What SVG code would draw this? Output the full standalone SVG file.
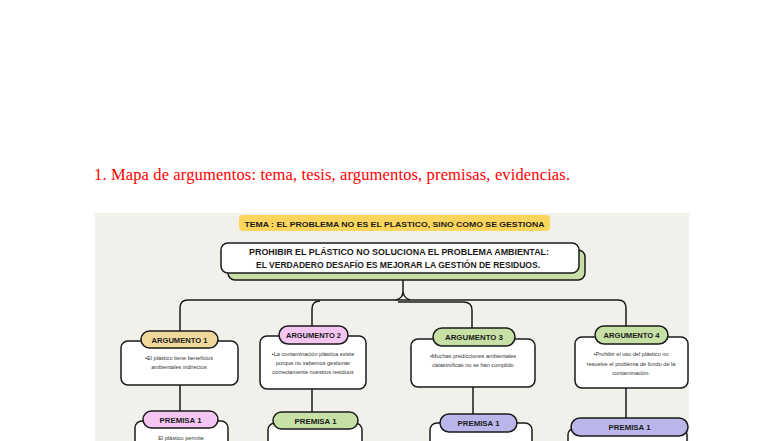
<svg xmlns="http://www.w3.org/2000/svg" width="784" height="441" viewBox="0 0 784 441">
<style>
.title{font-family:"Liberation Serif",serif;font-size:16.5px;fill:#ff0000}
.hw{font-family:"Liberation Sans",Arial,sans-serif;font-weight:bold;fill:#1a1a1a;text-anchor:middle}
.lbl{font-size:8px}
.small{font-family:"Liberation Sans",Arial,sans-serif;font-size:5.6px;fill:#333;text-anchor:middle}
.box{fill:#ffffff;stroke:#1a1a1a;stroke-width:1.5}
.pill{stroke:#1a1a1a;stroke-width:1.5}
.conn{fill:none;stroke:#1a1a1a;stroke-width:1.5}
</style>
<rect width="784" height="441" fill="#ffffff"/>
<text class="title" x="94" y="180" textLength="476" lengthAdjust="spacing">1. Mapa de argumentos: tema, tesis, argumentos, premisas, evidencias.</text>
<rect x="95" y="213" width="594" height="228" fill="#f2f0ea"/>

<g id="tema">
<rect x="239" y="215" width="311" height="16" rx="4" fill="#fcd55c"/>
<text class="hw lbl" x="394.5" y="226.5" textLength="300" lengthAdjust="spacingAndGlyphs">TEMA : EL PROBLEMA NO ES EL PLASTICO, SINO COMO SE GESTIONA</text>
</g>

<g id="tesis">
<rect x="228" y="250" width="357" height="30" rx="7" fill="#c8dea6" stroke="#1a1a1a" stroke-width="1.5"/>
<rect x="221" y="243" width="358" height="30" rx="7" class="box"/>
<text class="hw" font-size="8.5" x="399" y="255" textLength="300" lengthAdjust="spacingAndGlyphs">PROHIBIR EL PLÁSTICO NO SOLUCIONA EL PROBLEMA AMBIENTAL:</text>
<text class="hw" font-size="8.5" x="398" y="268" textLength="284" lengthAdjust="spacingAndGlyphs">EL VERDADERO DESAFÍO ES MEJORAR LA GESTIÓN DE RESIDUOS.</text>
</g>

<g id="connectors">
<path class="conn" d="M403 280 L403 292 Q403 298 396 300"/>
<path class="conn" d="M403 292 Q404 298 410 300"/>
<path class="conn" d="M180 331 L180 308 Q180 300 188 300 L618 300 Q626 300 626 308 L626 326"/>
<path class="conn" d="M312 326 L312 309 Q312 301 320 301"/>
<path class="conn" d="M398 302 L463 302 Q472 302 472 310 L472 328"/>
<path class="conn" d="M180 385 L180 411"/>
<path class="conn" d="M312 389 L312 412"/>
<path class="conn" d="M473 387 L473 414"/>
<path class="conn" d="M626 388 L626 418"/>
</g>

<g id="argumento1">
<rect x="121" y="341" width="117" height="44" rx="7" class="box"/>
<rect x="141" y="331" width="77" height="17" rx="8.5" class="pill" fill="#efd89a"/>
<text class="hw lbl" x="179.5" y="342.5" textLength="56" lengthAdjust="spacingAndGlyphs">ARGUMENTO 1</text>
<text class="small" x="179" y="360">•El plástico tiene beneficios</text>
<text class="small" x="179" y="369">ambientales indirectos</text>
</g>

<g id="argumento2">
<rect x="260" y="336" width="106" height="53" rx="7" class="box"/>
<rect x="279" y="326" width="69" height="18" rx="9" class="pill" fill="#f5c6f1"/>
<text class="hw lbl" x="313.5" y="338" textLength="55" lengthAdjust="spacingAndGlyphs">ARGUMENTO 2</text>
<text class="small" x="313" y="356">•La contaminación plástica existe</text>
<text class="small" x="313" y="365">porque no sabemos gestionar</text>
<text class="small" x="313" y="374">correctamente nuestros residuos</text>
</g>

<g id="argumento3">
<rect x="411" y="339" width="124" height="48" rx="7" class="box"/>
<rect x="433" y="328" width="82" height="18" rx="9" class="pill" fill="#c6e0a6"/>
<text class="hw lbl" x="474" y="340" textLength="58" lengthAdjust="spacingAndGlyphs">ARGUMENTO 3</text>
<text class="small" x="473" y="358">•Muchas predicciones ambientales</text>
<text class="small" x="473" y="367">catastróficas no se han cumplido</text>
</g>

<g id="argumento4">
<rect x="575" y="337" width="113" height="51" rx="7" class="box"/>
<rect x="595" y="326" width="73" height="18" rx="9" class="pill" fill="#c6e0a6"/>
<text class="hw lbl" x="631.5" y="338" textLength="56" lengthAdjust="spacingAndGlyphs">ARGUMENTO 4</text>
<text class="small" x="631" y="356">•Prohibir el uso del plástico no</text>
<text class="small" x="631" y="366">resuelve el problema de fondo de la</text>
<text class="small" x="631" y="375">contaminación.</text>
</g>

<g id="premisa1-a1">
<rect x="135" y="421" width="93" height="40" rx="7" class="box"/>
<rect x="143" y="411" width="75" height="17" rx="8.5" class="pill" fill="#f5c6f1"/>
<text class="hw lbl" x="180.5" y="422.5" textLength="42" lengthAdjust="spacingAndGlyphs">PREMISA 1</text>
<text class="small" x="181" y="440">El plástico permite</text>
</g>

<g id="premisa1-a2">
<rect x="268" y="423" width="94" height="40" rx="7" class="box"/>
<rect x="273" y="412" width="85" height="17" rx="8.5" class="pill" fill="#c6e0a6"/>
<text class="hw lbl" x="315.5" y="423.5" textLength="42" lengthAdjust="spacingAndGlyphs">PREMISA 1</text>
</g>

<g id="premisa1-a3">
<rect x="430" y="423" width="102" height="40" rx="7" class="box"/>
<rect x="440" y="414" width="77" height="18" rx="9" class="pill" fill="#bab6ea"/>
<text class="hw lbl" x="478.5" y="426" textLength="42" lengthAdjust="spacingAndGlyphs">PREMISA 1</text>
</g>

<g id="premisa1-a4">
<rect x="568" y="428" width="119" height="40" rx="7" class="box"/>
<rect x="571" y="418" width="117" height="18" rx="9" class="pill" fill="#bab6ea"/>
<text class="hw lbl" x="629.5" y="430" textLength="42" lengthAdjust="spacingAndGlyphs">PREMISA 1</text>
</g>
</svg>
